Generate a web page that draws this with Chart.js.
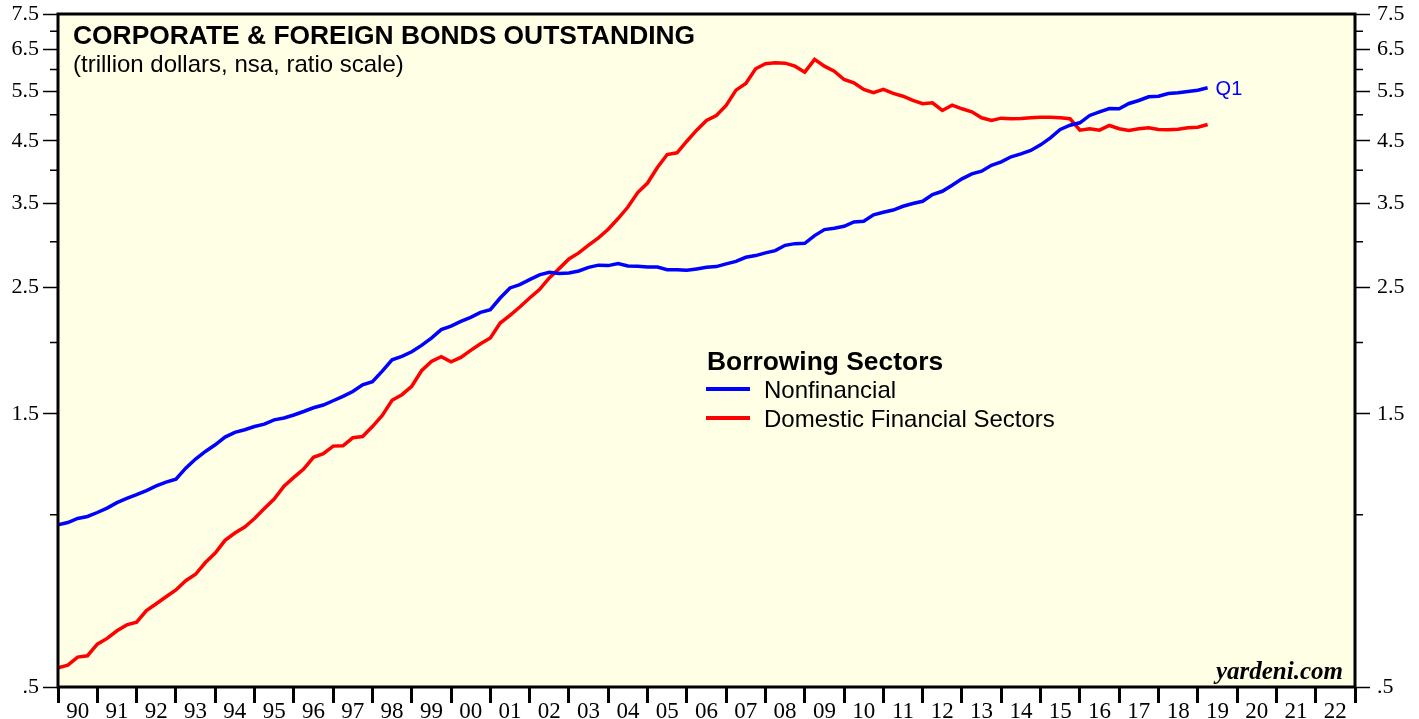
<!DOCTYPE html>
<html>
<head>
<meta charset="utf-8">
<script src="https://cdn.jsdelivr.net/npm/chart.js@4.4.1/dist/chart.umd.min.js"></script>
<style>
  html, body { margin: 0; padding: 0; background: #fff; }
  #wrap { width: 1419px; height: 719px; }
</style>
</head>
<body>
<div id="wrap"><canvas id="bondsChart" width="1419" height="719"></canvas></div>
<script>
// Corporate & foreign bonds outstanding, trillion dollars (quarterly, 1989Q4 - 2019Q1)

const firstQuarter = 1990.0; // 1989Q4 end-of-quarter
const nonfinancial = [
    0.960, 0.969, 0.985, 0.993, 1.009, 1.027, 1.050, 1.068, 1.084, 1.102,
    1.123, 1.140, 1.154, 1.206, 1.251, 1.290, 1.325, 1.367, 1.393, 1.408,
    1.426, 1.440, 1.465, 1.476, 1.494, 1.515, 1.538, 1.555, 1.582, 1.610,
    1.642, 1.687, 1.708, 1.782, 1.865, 1.891, 1.927, 1.977, 2.036, 2.106,
    2.136, 2.177, 2.213, 2.258, 2.282, 2.392, 2.491, 2.524, 2.575, 2.625,
    2.653, 2.639, 2.646, 2.667, 2.706, 2.730, 2.725, 2.747, 2.720, 2.717,
    2.711, 2.709, 2.681, 2.681, 2.674, 2.689, 2.706, 2.714, 2.744, 2.772,
    2.818, 2.837, 2.868, 2.894, 2.957, 2.977, 2.981, 3.075, 3.150, 3.167,
    3.192, 3.249, 3.257, 3.342, 3.377, 3.408, 3.460, 3.498, 3.530, 3.627,
    3.675, 3.765, 3.863, 3.942, 3.984, 4.081, 4.137, 4.222, 4.273, 4.330,
    4.430, 4.557, 4.712, 4.794, 4.841, 4.986, 5.060, 5.128, 5.122, 5.232,
    5.296, 5.375, 5.388, 5.447, 5.462, 5.491, 5.520, 5.574
];
const domesticFinancial = [
    0.540, 0.546, 0.564, 0.567, 0.594, 0.608, 0.627, 0.642, 0.649, 0.680,
    0.699, 0.719, 0.739, 0.767, 0.787, 0.825, 0.857, 0.902, 0.929, 0.952,
    0.985, 1.025, 1.065, 1.122, 1.162, 1.202, 1.260, 1.279, 1.318, 1.320,
    1.363, 1.370, 1.426, 1.491, 1.585, 1.621, 1.677, 1.785, 1.853, 1.889,
    1.850, 1.883, 1.937, 1.990, 2.036, 2.163, 2.231, 2.307, 2.392, 2.474,
    2.593, 2.692, 2.799, 2.868, 2.959, 3.046, 3.154, 3.293, 3.449, 3.656,
    3.799, 4.044, 4.261, 4.290, 4.495, 4.699, 4.886, 4.986, 5.190, 5.521,
    5.671, 6.017, 6.139, 6.164, 6.154, 6.080, 5.935, 6.247, 6.080, 5.959,
    5.763, 5.687, 5.536, 5.463, 5.536, 5.448, 5.388, 5.296, 5.226, 5.247,
    5.087, 5.196, 5.122, 5.060, 4.940, 4.886, 4.932, 4.920, 4.926, 4.940,
    4.952, 4.952, 4.940, 4.920, 4.699, 4.726, 4.699, 4.789, 4.726, 4.694,
    4.726, 4.745, 4.712, 4.706, 4.718, 4.745, 4.756, 4.808
];
const yearTicks = [1990, 1991, 1992, 1993, 1994, 1995, 1996, 1997, 1998, 1999, 2000, 2001,
    2002, 2003, 2004, 2005, 2006, 2007, 2008, 2009, 2010, 2011, 2012, 2013, 2014, 2015,
    2016, 2017, 2018, 2019, 2020, 2021, 2022, 2023];
const yTicks = [0.5, 1, 1.5, 2, 2.5, 3, 3.5, 4, 4.5, 5, 5.5, 6, 6.5, 7, 7.5];
const yLabels = ['.5', '', '1.5', '', '2.5', '', '3.5', '', '4.5', '', '5.5', '', '6.5', '', '7.5'];

const quarters = nonfinancial.map((v, i) => firstQuarter + i / 4);

const serif = '"Liberation Serif", "Times New Roman", serif';
const sans = '"Liberation Sans", Arial, sans-serif';

function isMajor(v) {
    return yLabels[yTicks.indexOf(v)] !== '';
}

function yAxis(position) {
    return {
        type: 'logarithmic',
        position: position,
        min: 0.5,
        max: 7.5,
        afterBuildTicks: scale => { scale.ticks = yTicks.map(v => ({ value: v })); },
        afterFit: scale => {
            scale.width = position === 'left' ? 58 : 64;
            scale.paddingTop = 0;
            scale.paddingBottom = 0;
        },
        border: { display: false },
        grid: {
            drawOnChartArea: false,
            tickLength: 15,
            tickWidth: 1.5,
            tickColor: ctx => (ctx.tick && isMajor(ctx.tick.value)) ? '#000' : 'rgba(0,0,0,0)'
        },
        ticks: {
            autoSkip: false,
            padding: position === 'left' ? 4 : 7,
            color: '#000',
            font: { family: serif, size: 22 },
            callback: (v) => yLabels[yTicks.indexOf(v)]
        }
    };
}

// background, frame, minor ticks, titles and legend
const decorations = {
    id: 'decorations',
    beforeDraw(chart) {
        const { ctx, chartArea: a } = chart;
        ctx.save();
        ctx.fillStyle = '#FFFFE5';
        ctx.fillRect(a.left, a.top, a.right - a.left, a.bottom - a.top);
        ctx.restore();
    },
    afterDraw(chart) {
        const { ctx, chartArea: a } = chart;
        const y = chart.scales.y;
        ctx.save();
        // minor ticks
        ctx.strokeStyle = '#000';
        ctx.lineWidth = 1.5;
        yTicks.filter(v => !isMajor(v)).forEach(v => {
            const py = y.getPixelForValue(v);
            ctx.beginPath();
            ctx.moveTo(a.left - 8, py); ctx.lineTo(a.left, py);
            ctx.moveTo(a.right, py); ctx.lineTo(a.right + 8, py);
            ctx.stroke();
        });
        // frame
        ctx.lineWidth = 3;
        ctx.strokeRect(a.left, a.top, a.right - a.left, a.bottom - a.top);

        // title
        ctx.fillStyle = '#000';
        ctx.textBaseline = 'alphabetic';
        ctx.font = 'bold 26.4px ' + sans;
        ctx.fillText('CORPORATE & FOREIGN BONDS OUTSTANDING', 73, 44);
        ctx.font = '24px ' + sans;
        ctx.fillText('(trillion dollars, nsa, ratio scale)', 73, 72);

        // legend
        ctx.font = 'bold 26.4px ' + sans;
        ctx.fillText('Borrowing Sectors', 707, 370);
        ctx.font = '24px ' + sans;
        ctx.fillText('Nonfinancial', 764, 398);
        ctx.fillText('Domestic Financial Sectors', 764, 427);
        ctx.lineWidth = 4;
        ctx.strokeStyle = '#0000FF';
        ctx.beginPath(); ctx.moveTo(706, 389); ctx.lineTo(750, 389); ctx.stroke();
        ctx.strokeStyle = '#FF0000';
        ctx.beginPath(); ctx.moveTo(706, 418); ctx.lineTo(750, 418); ctx.stroke();

        // last quarter marker
        const x = chart.scales.x;
        const last = nonfinancial.length - 1;
        ctx.fillStyle = '#0000FF';
        ctx.font = '20px ' + sans;
        ctx.fillText('Q1', x.getPixelForValue(quarters[last]) + 8, y.getPixelForValue(nonfinancial[last]) + 7);

        // source
        ctx.fillStyle = '#000';
        ctx.textAlign = 'right';
        ctx.font = 'italic bold 25px ' + serif;
        ctx.fillText('yardeni.com', a.right - 12, 679);
        ctx.restore();
    }
};

const ctx = document.getElementById('bondsChart').getContext('2d');
const chart = new Chart(ctx, {
    type: 'line',
    data: {
        datasets: [{
            label: 'Nonfinancial',
            data: quarters.map((q, i) => ({ x: q, y: nonfinancial[i] })),
            borderColor: '#0000FF',
            borderWidth: 3.5,
            pointRadius: 0,
            tension: 0
        }, {
            label: 'Domestic Financial Sectors',
            data: quarters.map((q, i) => ({ x: q, y: domesticFinancial[i] })),
            borderColor: '#FF0000',
            borderWidth: 3.5,
            pointRadius: 0,
            tension: 0
        }]
    },
    options: {
        responsive: false,
        animation: false,
        layout: { padding: { top: 14, left: 0, right: 0, bottom: 0 } },
        plugins: {
            legend: { display: false },
            tooltip: { enabled: false }
        },
        scales: {
            x: {
                type: 'linear',
                position: 'bottom',
                min: 1990,
                max: 2023,
                afterBuildTicks: scale => { scale.ticks = yearTicks.map(v => ({ value: v })); },
                afterFit: scale => {
                    scale.height = 32;
                    scale.paddingLeft = 0;
                    scale.paddingRight = 0;
                },
                border: { display: false },
                grid: {
                    drawOnChartArea: false,
                    tickLength: 16,
                    tickWidth: 3,
                    tickColor: '#000'
                },
                ticks: {
                    autoSkip: false,
                    maxRotation: 0,
                    labelOffset: 19.65,
                    padding: -5,
                    color: '#000',
                    font: { family: serif, size: 23 },
                    callback: v => v < 2023 ? String(v).slice(2) : ''
                }
            },
            y: yAxis('left'),
            y2: yAxis('right')
        }
    },
    plugins: [decorations]
});
</script>
</body>
</html>
